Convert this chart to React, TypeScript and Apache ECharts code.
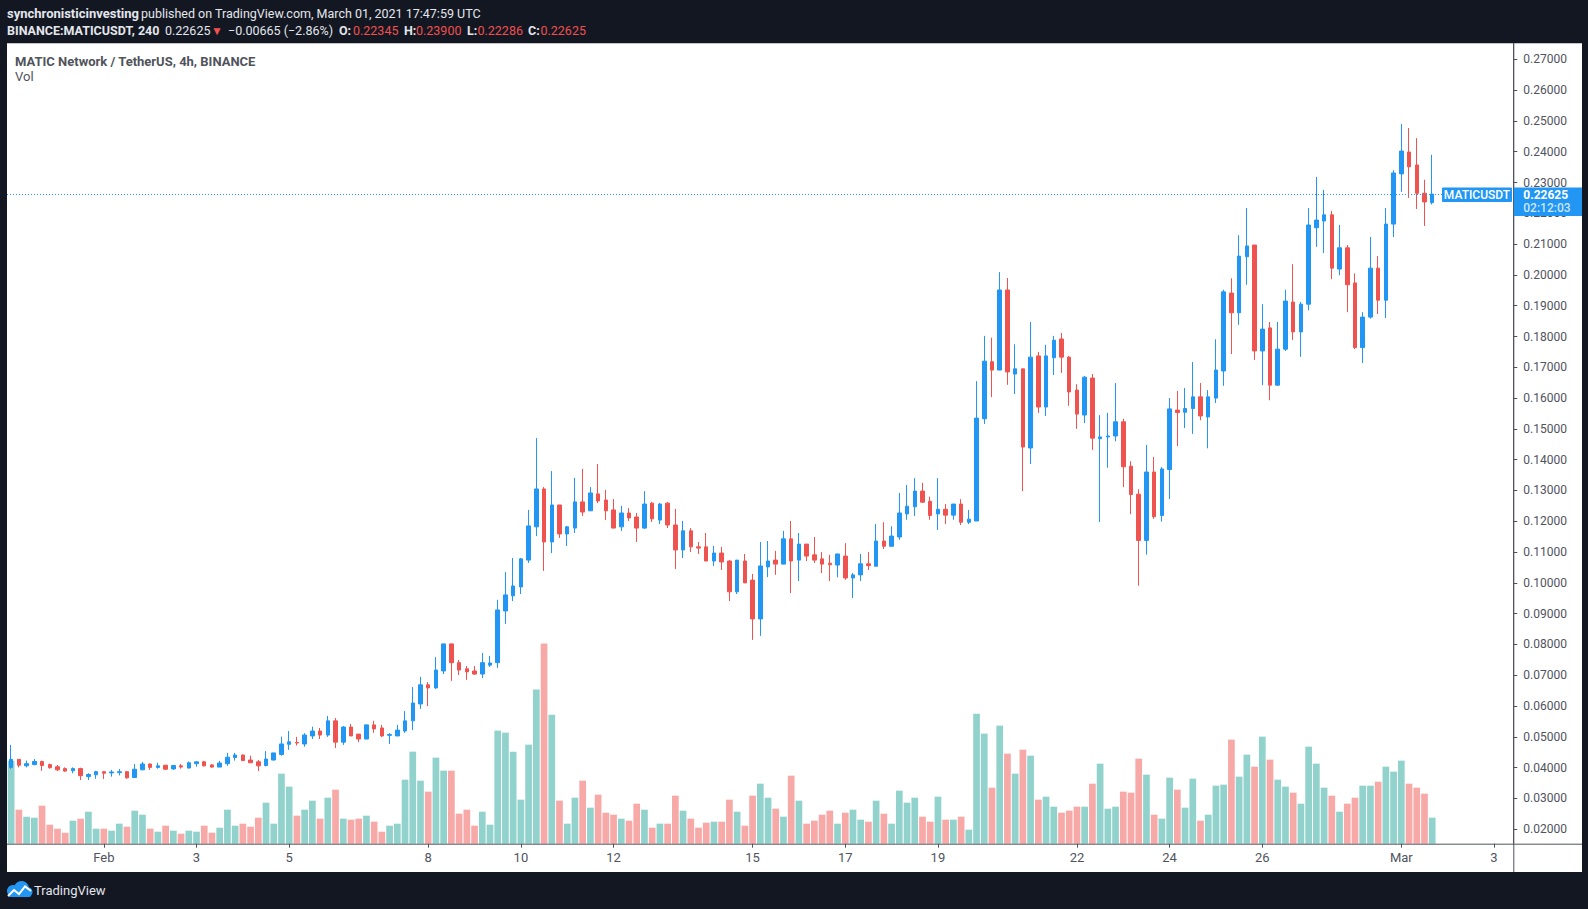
import React, { useEffect, useRef } from 'react';
import * as echarts from 'echarts';

// ---------- DATA (MATIC/USDT, Binance, 4h candles from 2021-01-30 00:00 UTC) ----------
const OPEN = [
  0.0401, 0.0427, 0.0406, 0.0410, 0.0420, 0.0410, 0.0403, 0.0397, 0.0390, 0.0397,
  0.0371, 0.0377, 0.0387, 0.0383, 0.0384, 0.0387, 0.0368, 0.0393, 0.0412, 0.0401,
  0.0408, 0.0396, 0.0406, 0.0399, 0.0413, 0.0419, 0.0409, 0.0402, 0.0413, 0.0433,
  0.0441, 0.0425, 0.0419, 0.0407, 0.0425, 0.0443, 0.0476, 0.0482, 0.0477, 0.0503,
  0.0519, 0.0506, 0.0552, 0.0483, 0.0532, 0.0509, 0.0493, 0.0539, 0.0529, 0.0505,
  0.0503, 0.0519, 0.0552, 0.0607, 0.0669, 0.0659, 0.0714, 0.0802, 0.0741, 0.0721,
  0.0714, 0.0704, 0.0733, 0.0741, 0.0909, 0.0958, 0.0987, 0.1074, 0.1182, 0.1305,
  0.1133, 0.1253, 0.1159, 0.1178, 0.1263, 0.1234, 0.1289, 0.1269, 0.1237, 0.1182,
  0.1227, 0.1214, 0.1178, 0.1259, 0.1204, 0.1259, 0.1188, 0.1107, 0.1169, 0.1117,
  0.1117, 0.1071, 0.1097, 0.1071, 0.0971, 0.1071, 0.1009, 0.0883, 0.1052, 0.1074,
  0.1061, 0.1143, 0.1074, 0.1126, 0.1091, 0.1078, 0.1064, 0.1058, 0.1087, 0.1016,
  0.1026, 0.1062, 0.1054, 0.1136, 0.1119, 0.1149, 0.1224, 0.1247, 0.1298, 0.1265,
  0.1224, 0.1239, 0.1220, 0.1256, 0.1197, 0.1201, 0.1533, 0.1718, 0.1691, 0.1951,
  0.1678, 0.1695, 0.1438, 0.1737, 0.1571, 0.1731, 0.1792, 0.1733, 0.1626, 0.1545,
  0.1665, 0.1468, 0.1474, 0.1477, 0.1523, 0.1379, 0.1288, 0.1138, 0.1360, 0.1219,
  0.1368, 0.1561, 0.1554, 0.1566, 0.1604, 0.1539, 0.1600, 0.1688, 0.1941, 0.1877,
  0.2059, 0.2097, 0.1753, 0.1828, 0.1642, 0.1759, 0.1912, 0.1815, 0.1905, 0.2153,
  0.2175, 0.2195, 0.2019, 0.2088, 0.1974, 0.1764, 0.1863, 0.2022, 0.1918, 0.2165,
  0.2328, 0.2399, 0.2357, 0.2265, 0.22345,
];
const HIGH = [
  0.0474, 0.0428, 0.0423, 0.0428, 0.0423, 0.0413, 0.0409, 0.0401, 0.0401, 0.0400,
  0.0382, 0.0390, 0.0388, 0.0393, 0.0396, 0.0389, 0.0412, 0.0419, 0.0413, 0.0416,
  0.0409, 0.0409, 0.0412, 0.0420, 0.0420, 0.0422, 0.0412, 0.0422, 0.0448, 0.0448,
  0.0443, 0.0439, 0.0425, 0.0454, 0.0448, 0.0501, 0.0519, 0.0500, 0.0512, 0.0533,
  0.0529, 0.0568, 0.0561, 0.0535, 0.0542, 0.0509, 0.0539, 0.0552, 0.0539, 0.0512,
  0.0539, 0.0584, 0.0662, 0.0695, 0.0678, 0.0759, 0.0802, 0.0802, 0.0750, 0.0730,
  0.0730, 0.0772, 0.0763, 0.0945, 0.1035, 0.1081, 0.1081, 0.1237, 0.1470, 0.1311,
  0.1363, 0.1253, 0.1185, 0.1341, 0.1370, 0.1311, 0.1386, 0.1302, 0.1272, 0.1250,
  0.1243, 0.1227, 0.1298, 0.1263, 0.1259, 0.1263, 0.1240, 0.1201, 0.1178, 0.1133,
  0.1162, 0.1120, 0.1117, 0.1074, 0.1074, 0.1094, 0.1029, 0.1133, 0.1136, 0.1104,
  0.1169, 0.1201, 0.1162, 0.1126, 0.1149, 0.1100, 0.1091, 0.1094, 0.1129, 0.1032,
  0.1094, 0.1100, 0.1191, 0.1197, 0.1184, 0.1292, 0.1318, 0.1340, 0.1325, 0.1280,
  0.1340, 0.1256, 0.1256, 0.1272, 0.1237, 0.1655, 0.1802, 0.1796, 0.2009, 0.1990,
  0.1775, 0.1695, 0.1847, 0.1750, 0.1773, 0.1802, 0.1811, 0.1737, 0.1645, 0.1672,
  0.1678, 0.1545, 0.1552, 0.1649, 0.1533, 0.1395, 0.1304, 0.1448, 0.1409, 0.1376,
  0.1600, 0.1623, 0.1633, 0.1717, 0.1649, 0.1626, 0.1791, 0.1952, 0.1989, 0.2129,
  0.2217, 0.2097, 0.1905, 0.1847, 0.1847, 0.1952, 0.2035, 0.1912, 0.2217, 0.2318,
  0.2276, 0.2208, 0.2162, 0.2097, 0.2005, 0.1879, 0.2123, 0.2061, 0.2217, 0.2340,
  0.2490, 0.2477, 0.2444, 0.2309, 0.2390,
];
const LOW = [
  0.0396, 0.0401, 0.0401, 0.0408, 0.0390, 0.0397, 0.0389, 0.0387, 0.0382, 0.0360,
  0.0360, 0.0364, 0.0363, 0.0371, 0.0375, 0.0364, 0.0368, 0.0393, 0.0393, 0.0397,
  0.0393, 0.0393, 0.0397, 0.0397, 0.0403, 0.0404, 0.0400, 0.0402, 0.0406, 0.0423,
  0.0422, 0.0416, 0.0389, 0.0404, 0.0423, 0.0439, 0.0458, 0.0472, 0.0468, 0.0493,
  0.0493, 0.0500, 0.0464, 0.0474, 0.0503, 0.0483, 0.0493, 0.0513, 0.0500, 0.0477,
  0.0503, 0.0513, 0.0522, 0.0591, 0.0600, 0.0656, 0.0704, 0.0682, 0.0701, 0.0685,
  0.0701, 0.0691, 0.0727, 0.0724, 0.0867, 0.0941, 0.0964, 0.1065, 0.1152, 0.1039,
  0.1097, 0.1146, 0.1120, 0.1162, 0.1217, 0.1234, 0.1259, 0.1204, 0.1178, 0.1169,
  0.1201, 0.1133, 0.1175, 0.1198, 0.1191, 0.1178, 0.1045, 0.1081, 0.1100, 0.1094,
  0.1071, 0.1055, 0.1042, 0.0941, 0.0964, 0.1000, 0.0815, 0.0828, 0.1019, 0.1026,
  0.1061, 0.0967, 0.1006, 0.1071, 0.1065, 0.1032, 0.1006, 0.1018, 0.1010, 0.0951,
  0.1006, 0.1042, 0.1054, 0.1110, 0.1119, 0.1140, 0.1205, 0.1217, 0.1260, 0.1205,
  0.1172, 0.1191, 0.1205, 0.1188, 0.1191, 0.1201, 0.1516, 0.1603, 0.1691, 0.1643,
  0.1613, 0.1298, 0.1386, 0.1552, 0.1542, 0.1675, 0.1682, 0.1575, 0.1500, 0.1519,
  0.1432, 0.1198, 0.1374, 0.1460, 0.1311, 0.1223, 0.0991, 0.1092, 0.1208, 0.1199,
  0.1272, 0.1444, 0.1503, 0.1484, 0.1528, 0.1437, 0.1584, 0.1640, 0.1743, 0.1838,
  0.1968, 0.1724, 0.1642, 0.1593, 0.1640, 0.1753, 0.1789, 0.1734, 0.1885, 0.2091,
  0.2071, 0.1986, 0.1999, 0.1879, 0.1759, 0.1714, 0.1858, 0.1873, 0.1860, 0.2123,
  0.2270, 0.2250, 0.2214, 0.2159, 0.22286,
];
const CLOSE = [
  0.0427, 0.0408, 0.0413, 0.0420, 0.0407, 0.0400, 0.0393, 0.0389, 0.0397, 0.0374,
  0.0378, 0.0387, 0.0382, 0.0386, 0.0387, 0.0367, 0.0395, 0.0412, 0.0401, 0.0406,
  0.0395, 0.0407, 0.0402, 0.0416, 0.0419, 0.0406, 0.0402, 0.0415, 0.0434, 0.0441,
  0.0423, 0.0416, 0.0406, 0.0428, 0.0448, 0.0477, 0.0484, 0.0480, 0.0506, 0.0519,
  0.0506, 0.0552, 0.0483, 0.0532, 0.0503, 0.0493, 0.0539, 0.0526, 0.0503, 0.0508,
  0.0522, 0.0552, 0.0610, 0.0669, 0.0659, 0.0717, 0.0802, 0.0741, 0.0717, 0.0711,
  0.0704, 0.0741, 0.0740, 0.0912, 0.0961, 0.0990, 0.1078, 0.1185, 0.1305, 0.1133,
  0.1253, 0.1159, 0.1182, 0.1263, 0.1230, 0.1292, 0.1266, 0.1234, 0.1178, 0.1227,
  0.1211, 0.1178, 0.1256, 0.1208, 0.1256, 0.1188, 0.1107, 0.1169, 0.1117, 0.1113,
  0.1071, 0.1097, 0.1068, 0.0971, 0.1074, 0.1000, 0.0883, 0.1055, 0.1071, 0.1061,
  0.1143, 0.1071, 0.1126, 0.1087, 0.1074, 0.1061, 0.1059, 0.1094, 0.1016, 0.1026,
  0.1062, 0.1056, 0.1136, 0.1119, 0.1152, 0.1227, 0.1249, 0.1298, 0.1262, 0.1219,
  0.1239, 0.1220, 0.1256, 0.1197, 0.1207, 0.1535, 0.1720, 0.1691, 0.1951, 0.1685,
  0.1695, 0.1441, 0.1733, 0.1571, 0.1737, 0.1788, 0.1733, 0.1620, 0.1548, 0.1668,
  0.1470, 0.1474, 0.1477, 0.1523, 0.1377, 0.1287, 0.1138, 0.1360, 0.1215, 0.1370,
  0.1565, 0.1553, 0.1566, 0.1604, 0.1542, 0.1604, 0.1691, 0.1945, 0.1877, 0.2061,
  0.2094, 0.1753, 0.1824, 0.1642, 0.1759, 0.1915, 0.1815, 0.1905, 0.2162, 0.2178,
  0.2195, 0.2022, 0.2088, 0.1968, 0.1764, 0.1863, 0.2022, 0.1918, 0.2165, 0.2331,
  0.2402, 0.2351, 0.2265, 0.2237, 0.22625,
];
// volume (relative units, millions)
const VOLUME = [
  83, 34, 27, 26, 38, 19, 15, 11, 23, 25,
  32, 15, 15, 13, 20, 17, 33, 29, 15, 12,
  18, 13, 10, 13, 12, 18, 11, 16, 34, 18,
  20, 17, 26, 41, 20, 70, 57, 28, 34, 43,
  25, 46, 54, 25, 24, 25, 28, 22, 12, 18,
  20, 64, 92, 63, 52, 86, 73, 73, 30, 34,
  18, 32, 19, 113, 111, 92, 44, 99, 154, 200,
  129, 43, 20, 46, 63, 36, 49, 31, 29, 25,
  23, 40, 34, 16, 20, 20, 48, 33, 25, 16,
  21, 22, 22, 44, 32, 18, 48, 60, 46, 35,
  27, 68, 43, 20, 23, 29, 33, 20, 31, 34,
  24, 22, 43, 30, 20, 53, 41, 46, 27, 22,
  47, 24, 24, 27, 14, 130, 110, 56, 118, 90,
  70, 94, 88, 44, 47, 37, 31, 33, 37, 37,
  60, 80, 35, 37, 52, 51, 85, 69, 29, 25,
  66, 54, 36, 65, 23, 29, 58, 59, 104, 67,
  89, 77, 107, 84, 64, 57, 51, 40, 97, 80,
  56, 48, 32, 40, 46, 58, 58, 62, 77, 72,
  83, 60, 56, 50, 26,
];
const PRICE_TICKS = [
  0.02, 0.03, 0.04, 0.05, 0.06, 0.07, 0.08, 0.09, 0.10, 0.11, 0.12, 0.13,
  0.14, 0.15, 0.16, 0.17, 0.18, 0.19, 0.20, 0.21, 0.22, 0.23, 0.24, 0.25, 0.26, 0.27,
];
const X_TICK_DATES = [
  '2021-02-01', '2021-02-03', '2021-02-05', '2021-02-08', '2021-02-10', '2021-02-12', '2021-02-15',
  '2021-02-17', '2021-02-19', '2021-02-22', '2021-02-24', '2021-02-26', '2021-03-01', '2021-03-03',
];
const X_TICK_LABELS = ['Feb', '3', '5', '8', '10', '12', '15', '17', '19', '22', '24', '26', 'Mar', '3'];
const LAST_PRICE = 0.22625;
const START_MS = Date.UTC(2021, 0, 30, 0, 0);
const BAR_MS = 4 * 3600 * 1000;
const FUTURE_BARS = 10;
const PRICE_MIN = 0.01532;
const PRICE_MAX = 0.2752;
const VOL_AXIS_MAX = 800;

// ---------- STYLE ----------
const UP = '#2196F3';
const DOWN = '#EF5350';
const VOL_UP = 'rgba(38,166,154,0.5)';
const VOL_DOWN = 'rgba(239,83,80,0.5)';
const AXIS = '#50535E';
const HEADER_BG = '#131722';
const HEADER_TXT = '#E3E6EC';
const HEADER_RED = '#F0504F';
const FONT = 'Roboto, "Noto Sans", sans-serif';

const categories: string[] = [];
for (let i = 0; i < OPEN.length + FUTURE_BARS; i++) {
  categories.push(new Date(START_MS + i * BAR_MS).toISOString().slice(0, 16).replace('T', ' '));
}
const tickMap: Record<string, string> = {};
X_TICK_DATES.forEach((d, i) => {
  tickMap[d + ' 00:00'] = X_TICK_LABELS[i];
});
const isTick = (_i: number, v: string) => tickMap[v] !== undefined;

const candleData = OPEN.map((o, i) => [o, CLOSE[i], LOW[i], HIGH[i]]);
const volData = VOLUME.map((v, i) => ({
  value: v,
  itemStyle: { color: CLOSE[i] >= OPEN[i] ? VOL_UP : VOL_DOWN },
}));

const GRID = { left: 7.3, top: 43.3, width: 1506, height: 800.4 };
const PANEL_RIGHT = 1582;

function txt(x: number, y: number, text: string, size: number, color: string, weight: any = 'normal', align = 'left') {
  return {
    type: 'text',
    x,
    y,
    z: 100,
    silent: true,
    style: {
      text,
      fill: color,
      fontSize: size,
      fontFamily: FONT,
      fontWeight: weight,
      textAlign: align,
      textVerticalAlign: 'middle',
    },
  };
}

export default function App() {
  const ref = useRef<HTMLDivElement>(null);
  useEffect(() => {
    document.body.style.margin = '0';
    const chart = echarts.init(ref.current!, null, { renderer: 'svg' });
    chart.setOption({
      animation: false,
      backgroundColor: HEADER_BG,
      grid: [
        { ...GRID, containLabel: false },
        { ...GRID, containLabel: false },
      ],
      xAxis: [
        {
          type: 'category',
          gridIndex: 0,
          data: categories,
          boundaryGap: true,
          axisLine: { show: false },
          axisTick: { show: true, alignWithLabel: true, interval: isTick, length: 4, lineStyle: { color: AXIS } },
          axisLabel: {
            interval: isTick,
            formatter: (v: string) => tickMap[v] ?? '',
            color: AXIS,
            fontSize: 13,
            fontFamily: FONT,
            margin: 7,
          },
          splitLine: { show: false },
        },
        {
          type: 'category',
          gridIndex: 1,
          data: categories,
          boundaryGap: true,
          show: false,
        },
      ],
      yAxis: [
        {
          type: 'value',
          gridIndex: 0,
          position: 'right',
          min: PRICE_MIN,
          max: PRICE_MAX,
          axisLine: { show: true, lineStyle: { color: AXIS } },
          axisTick: { show: true, customValues: PRICE_TICKS, length: 4, lineStyle: { color: AXIS } },
          axisLabel: {
            customValues: PRICE_TICKS,
            formatter: (v: number) => v.toFixed(5),
            color: AXIS,
            fontSize: 12,
            fontFamily: FONT,
            margin: 10,
          },
          splitLine: { show: false },
        },
        {
          type: 'value',
          gridIndex: 1,
          min: 0,
          max: VOL_AXIS_MAX,
          show: false,
          splitLine: { show: false },
        },
      ],
      series: [
        {
          type: 'bar',
          xAxisIndex: 1,
          yAxisIndex: 1,
          data: volData,
          barWidth: 6.7,
          z: 1,
          silent: true,
        },
        {
          type: 'candlestick',
          xAxisIndex: 0,
          yAxisIndex: 0,
          data: candleData,
          barWidth: 4,
          z: 3,
          silent: true,
          itemStyle: {
            color: UP,
            color0: DOWN,
            borderColor: UP,
            borderColor0: DOWN,
            borderWidth: 1,
          },
        },
      ],
    });

    const py = Math.round(chart.convertToPixel({ yAxisIndex: 0 }, LAST_PRICE) as number) + 0.5;
    const axisX = GRID.left + GRID.width;
    const axisY = GRID.top + GRID.height;

    chart.setOption({
      graphic: [
        // white chart panel
        { type: 'rect', z: -10, silent: true, shape: { x: 7, y: 43.3, width: PANEL_RIGHT - 7, height: 828.7 }, style: { fill: '#ffffff' } },
        // last price dotted line
        { type: 'line', z: 40, silent: true, shape: { x1: 7, y1: py, x2: 1442, y2: py }, style: { stroke: UP, lineWidth: 1, lineDash: [1, 2] } },
        // axis lines
        { type: 'line', z: 50, silent: true, shape: { x1: 7, y1: axisY + 0.5, x2: PANEL_RIGHT, y2: axisY + 0.5 }, style: { stroke: AXIS, lineWidth: 1 } },
        { type: 'line', z: 50, silent: true, shape: { x1: axisX + 0.5, y1: 43.3, x2: axisX + 0.5, y2: 872 }, style: { stroke: AXIS, lineWidth: 1 } },
        // header
        txt(7, 13.5, 'synchronisticinvesting', 13, HEADER_TXT, 'bold'),
        txt(141, 13.5, 'published on TradingView.com, March 01, 2021 17:47:59 UTC', 12.5, HEADER_TXT),
        txt(7, 30.5, 'BINANCE:MATICUSDT, 240', 12.5, HEADER_TXT, 'bold'),
        txt(165, 30.5, '0.22625', 12.5, HEADER_TXT),
        txt(211, 30.5, '▼', 12, HEADER_RED),
        txt(228, 30.5, '−0.00665 (−2.86%)', 12.5, HEADER_TXT),
        txt(339, 30.5, 'O:', 12.5, HEADER_TXT, 'bold'),
        txt(353, 30.5, '0.22345', 12.5, HEADER_RED),
        txt(404, 30.5, 'H:', 12.5, HEADER_TXT, 'bold'),
        txt(416, 30.5, '0.23900', 12.5, HEADER_RED),
        txt(467, 30.5, 'L:', 12.5, HEADER_TXT, 'bold'),
        txt(477.5, 30.5, '0.22286', 12.5, HEADER_RED),
        txt(528, 30.5, 'C:', 12.5, HEADER_TXT, 'bold'),
        txt(540.5, 30.5, '0.22625', 12.5, HEADER_RED),
        // legend
        txt(15, 61, 'MATIC Network / TetherUS, 4h, BINANCE', 13, '#50535B', 'bold'),
        txt(15, 76, 'Vol', 13, '#50535B'),
        // last price labels
        { type: 'rect', z: 90, silent: true, shape: { x: 1442, y: py - 7, width: 70, height: 14.5, r: 1 }, style: { fill: UP } },
        txt(1477, py + 0.5, 'MATICUSDT', 12, '#ffffff', 500, 'center'),
        { type: 'rect', z: 90, silent: true, shape: { x: axisX + 0.5, y: py - 7, width: PANEL_RIGHT - axisX - 0.5, height: 28.5 }, style: { fill: UP } },
        txt(axisX + 10, py + 0.5, '0.22625', 12, '#ffffff', 'bold'),
        txt(axisX + 10, py + 13.5, '02:12:03', 12, 'rgba(255,255,255,0.78)', 500),
        // footer logo
        { type: 'circle', z: 100, silent: true, shape: { cx: 13, cy: 891, r: 6 }, style: { fill: '#2196F3' } },
        { type: 'circle', z: 100, silent: true, shape: { cx: 21.5, cy: 888.5, r: 7.5 }, style: { fill: '#2196F3' } },
        { type: 'circle', z: 100, silent: true, shape: { cx: 27.5, cy: 892, r: 5 }, style: { fill: '#2196F3' } },
        { type: 'rect', z: 100, silent: true, shape: { x: 8, y: 891, width: 23, height: 6, r: 2 }, style: { fill: '#2196F3' } },
        {
          type: 'polyline',
          z: 101,
          silent: true,
          shape: { points: [[8, 896], [14, 890], [19, 894], [25, 886.5], [31, 891]] },
          style: { stroke: '#ffffff', lineWidth: 2, fill: null },
        },
        txt(34, 890.5, 'TradingView', 13, HEADER_TXT),
      ],
    });

    return () => chart.dispose();
  }, []);
  return <div ref={ref} style={{ position: 'fixed', left: 0, top: 0, width: 1588, height: 909 }} />;
}
